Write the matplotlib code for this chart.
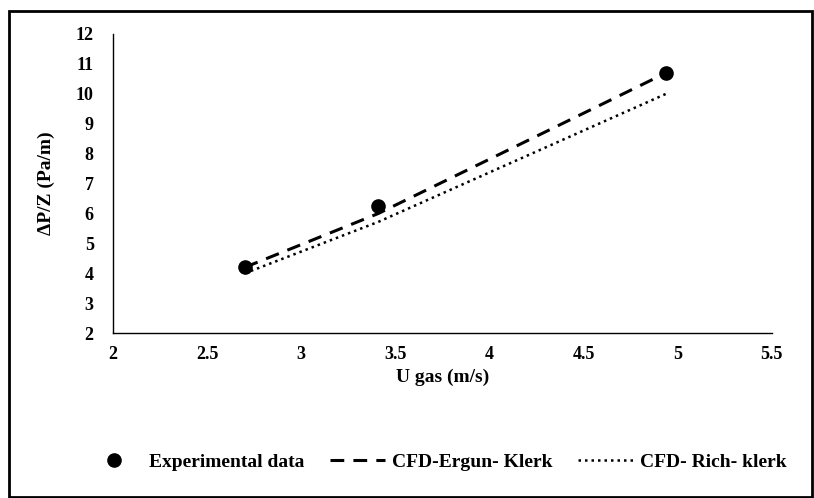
import matplotlib
matplotlib.use('Agg')
import matplotlib.pyplot as plt
from matplotlib.patches import Rectangle

font = {'family': 'Liberation Serif',
        'weight': 'bold',
        'size': 13}
plt.rc('font', **font)
plt.rc('axes', labelweight='bold')

# 数据
u_gas = [2.70, 3.41, 4.94]
exp_dp = [4.2, 6.25, 10.7]
ergun_dp = [4.2, 6.0, 10.7]
rich_dp = [4.0, 5.72, 10.0]

x_ticks = [2, 2.5, 3, 3.5, 4, 4.5, 5, 5.5]
y_ticks = [2, 3, 4, 5, 6, 7, 8, 9, 10, 11, 12]

fig = plt.figure(figsize=(8.14, 4.98), dpi=100)
ax = fig.add_axes([0.139, 0.331, 0.809, 0.601])

ax.plot(u_gas, exp_dp, 'o', color='black', markersize=9.5, label='Experimental data', zorder=3)
ax.plot(u_gas, ergun_dp, color='black', linestyle=(0, (4.5, 3)), linewidth=2.2, label='CFD-Ergun- Klerk')
ax.plot(u_gas, rich_dp, color='black', linestyle=(0, (1, 1.6)), linewidth=1.8, label='CFD- Rich- klerk')

ax.set_xlim(2, 5.5)
ax.set_ylim(2, 12)
ax.set_xticks(x_ticks, [str(t) for t in x_ticks])
ax.set_yticks(y_ticks)
ax.tick_params(axis='x', length=0, pad=9)
ax.tick_params(axis='y', length=0, pad=14)
ax.spines['top'].set_visible(False)
ax.spines['right'].set_visible(False)
ax.spines['left'].set_linewidth(1.0)
ax.spines['bottom'].set_linewidth(1.0)

ax.set_xlabel('U gas (m/s)', fontsize=14)
ax.set_ylabel('ΔP/Z (Pa/m)', fontsize=14)
ax.xaxis.set_label_coords(0.5, -0.118)
ax.yaxis.set_label_coords(-0.088, 0.5)

fig.legend(loc='center', bbox_to_anchor=(0.537, 0.072), ncol=3, frameon=False,
           handlelength=2.8, columnspacing=1.3, handletextpad=0.4, fontsize=14)

# 外框
fig.patches.append(Rectangle((0.011, 0.002), 0.987, 0.976, transform=fig.transFigure,
                             fill=False, edgecolor='black', linewidth=2))

fig.savefig('out.png', dpi=100)
